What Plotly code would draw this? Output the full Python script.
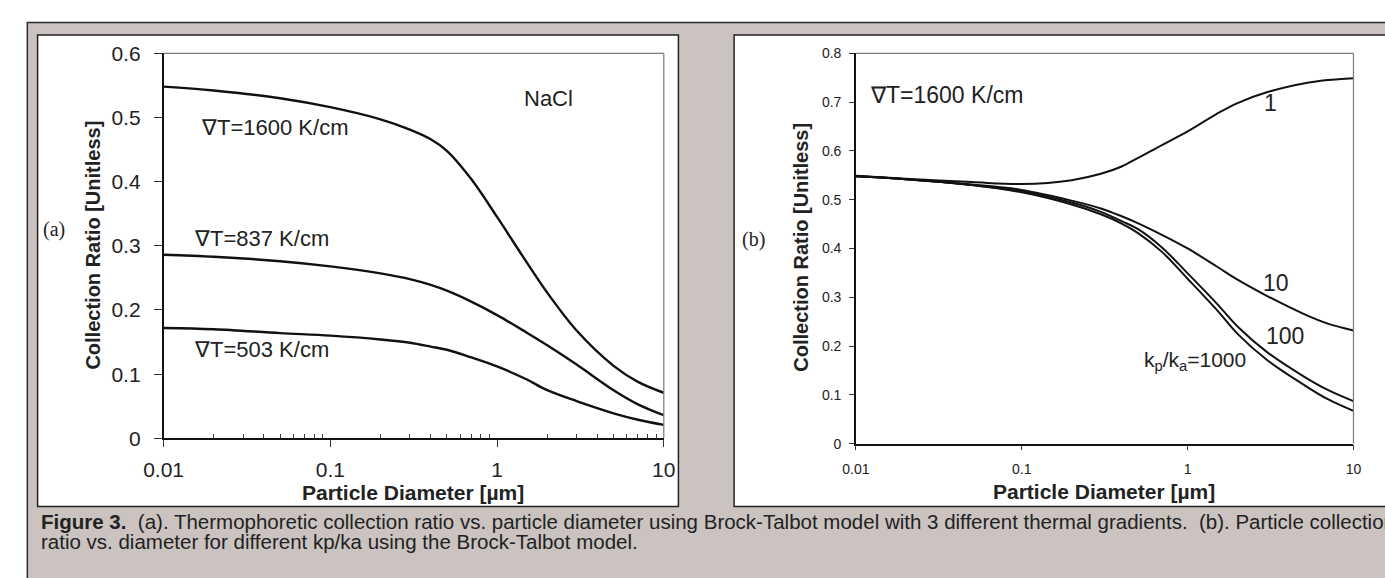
import plotly.graph_objects as go

W, H = 1385, 578

# ---------------- data ----------------
diam = [0.01, 0.02, 0.05, 0.1, 0.2, 0.3, 0.4, 0.5, 0.7, 1, 1.5, 2, 3, 5, 7, 10]

# panel (a): NaCl, three thermal gradients
grad_1600 = [0.548, 0.542, 0.530, 0.516, 0.497, 0.481, 0.466, 0.448, 0.404, 0.345, 0.275, 0.227, 0.168, 0.113, 0.088, 0.071]
grad_837 = [0.286, 0.283, 0.276, 0.268, 0.257, 0.248, 0.239, 0.230, 0.213, 0.192, 0.165, 0.145, 0.115, 0.075, 0.053, 0.036]
grad_503 = [0.172, 0.170, 0.164, 0.160, 0.154, 0.149, 0.143, 0.138, 0.126, 0.112, 0.092, 0.075, 0.058, 0.039, 0.029, 0.021]

# panel (b): different kp/ka at 1600 K/cm
kp_1 = [0.549, 0.543, 0.536, 0.532, 0.540, 0.553, 0.568, 0.585, 0.612, 0.640, 0.676, 0.698, 0.720, 0.738, 0.745, 0.749]
kp_10 = [0.548, 0.542, 0.531, 0.520, 0.498, 0.482, 0.466, 0.452, 0.428, 0.400, 0.363, 0.336, 0.303, 0.266, 0.246, 0.232]
kp_100 = [0.548, 0.542, 0.530, 0.517, 0.494, 0.475, 0.456, 0.440, 0.402, 0.349, 0.287, 0.240, 0.188, 0.138, 0.110, 0.087]
kp_1000 = [0.548, 0.542, 0.530, 0.515, 0.490, 0.470, 0.451, 0.432, 0.393, 0.338, 0.274, 0.225, 0.172, 0.121, 0.091, 0.067]

x_tickvals = [0.01, 0.1, 1, 10]
x_ticktext = ["0.01", "0.1", "1", "10"]
minor_vals = [m * 10 ** e for e in (-2, -1, 0) for m in range(2, 10)]
ya_tickvals = [0, 0.1, 0.2, 0.3, 0.4, 0.5, 0.6]
ya_ticktext = ["0", "0.1", "0.2", "0.3", "0.4", "0.5", "0.6"]
yb_tickvals = [0, 0.1, 0.2, 0.3, 0.4, 0.5, 0.6, 0.7, 0.8]
yb_ticktext = ["0", "0.1", "0.2", "0.3", "0.4", "0.5", "0.6", "0.7", "0.8"]

SANS = "Liberation Sans, Arial, Helvetica, sans-serif"
SERIF = "Liberation Serif, Times New Roman, serif"
GREY = "#cac3c0"
INK = "#222222"


def px(x):
    return x / W


def py(y):
    return 1 - y / H


fig = go.Figure()

for ys in (grad_1600, grad_837, grad_503):
    fig.add_trace(go.Scatter(x=diam, y=ys, mode="lines", xaxis="x", yaxis="y",
                             line=dict(color="#111", width=2.4, shape="spline", smoothing=1.0),
                             showlegend=False, hoverinfo="skip"))
for ys in (kp_1, kp_10, kp_100, kp_1000):
    fig.add_trace(go.Scatter(x=diam, y=ys, mode="lines", xaxis="x2", yaxis="y2",
                             line=dict(color="#111", width=2.0, shape="spline", smoothing=1.0),
                             showlegend=False, hoverinfo="skip"))

shapes = [
    # outer grey frame
    dict(type="rect", xref="paper", yref="paper", x0=px(7.5), y0=py(11), x1=px(1420), y1=py(620),
         fillcolor=GREY, line=dict(color="#2b2b2b", width=1.5), layer="below"),
    # panel boxes
    dict(type="rect", xref="paper", yref="paper", x0=px(18), y0=py(24), x1=px(674), y1=py(515),
         fillcolor="white", line=dict(color="#222", width=1.5), layer="below"),
    dict(type="rect", xref="paper", yref="paper", x0=px(731), y0=py(24), x1=px(1420), y1=py(515),
         fillcolor="white", line=dict(color="#222", width=1.5), layer="below"),
]
# top / right plot borders (grey)
for xr, yr in (("x", "y"), ("x2", "y2")):
    shapes.append(dict(type="line", xref=xr + " domain", yref=yr + " domain", x0=0, x1=1, y0=1, y1=1,
                       line=dict(color="#7a7a7a", width=1.2)))
    shapes.append(dict(type="line", xref=xr + " domain", yref=yr + " domain", x0=1, x1=1, y0=0, y1=1,
                       line=dict(color="#7a7a7a", width=1.2)))

annotations = []


def txt(x, y, s, size, family=SANS, xanchor="left", angle=0, color=INK):
    annotations.append(dict(x=px(x), y=py(y), xref="paper", yref="paper", text=s, showarrow=False,
                            xanchor=xanchor, yanchor="middle", textangle=angle,
                            font=dict(size=size, family=family, color=color)))


# panel (a) labels
txt(183, 120, "∇T=1600 K/cm", 22)
txt(176, 236, "∇T=837 K/cm", 22)
txt(176, 352, "∇T=503 K/cm", 22)
txt(541, 90, "NaCl", 22, xanchor="center")
txt(21, 227, "(a)", 20, family=SERIF)
txt(75, 243, "<b>Collection Ratio [Unitless]</b>", 20, xanchor="center", angle=-90)
txt(402, 500, "<b>Particle Diameter [µm]</b>", 21, xanchor="center")

# panel (b) labels
txt(868, 86, "∇T=1600 K/cm", 23)
txt(1280, 95, "1", 23, xanchor="center")
txt(1286, 282, "10", 23, xanchor="center")
txt(1295, 337, "100", 23, xanchor="center")
txt(1257, 363, "k<sub>p</sub>/k<sub>a</sub>=1000", 21, xanchor="right")
txt(737, 237, "(b)", 20, family=SERIF)
txt(800, 245, "<b>Collection Ratio [Unitless]</b>", 20, xanchor="center", angle=-90)
txt(1110, 499, "<b>Particle Diameter [µm]</b>", 21, xanchor="center")

# caption
txt(19, 531, "<b>Figure 3.</b>  (a). Thermophoretic collection ratio vs. particle diameter using Brock-Talbot model "
             "with 3 different thermal gradients.  (b). Particle collection", 20.5)
txt(19, 551, "ratio vs. diameter for different kp/ka using the Brock-Talbot model.", 20.5)

axis_common = dict(showgrid=False, zeroline=False, showline=True, linecolor="#111", linewidth=1.5,
                   ticks="outside", tickcolor="#333", tickwidth=1.2)

fig.update_layout(
    width=W, height=H, margin=dict(l=0, r=0, t=0, b=0),
    paper_bgcolor="white", plot_bgcolor="rgba(0,0,0,0)",
    shapes=shapes, annotations=annotations, showlegend=False,
    xaxis=dict(axis_common, type="log", range=[-2, 1], domain=[px(147), px(659)], anchor="y",
               tickmode="array", tickvals=x_tickvals, ticktext=x_ticktext, ticklen=7,
               tickfont=dict(size=21, family=SANS, color=INK), ticklabelstandoff=5,
               minor=dict(ticks="inside", ticklen=5, tickcolor="#333", tickwidth=1,
                          tickmode="array", tickvals=minor_vals, showgrid=False)),
    yaxis=dict(axis_common, range=[0, 0.6], domain=[py(444), py(43)], anchor="x",
               tickmode="array", tickvals=ya_tickvals, ticktext=ya_ticktext, ticklen=8,
               tickfont=dict(size=21, family=SANS, color=INK), ticklabelstandoff=9),
    xaxis2=dict(axis_common, type="log", range=[-2, 1], domain=[px(855.7), px(1365)], anchor="y2",
                tickmode="array", tickvals=x_tickvals, ticktext=x_ticktext, ticklen=5,
                tickfont=dict(size=14, family=SANS, color=INK), ticklabelstandoff=7),
    yaxis2=dict(axis_common, range=[0, 0.8], domain=[py(449.5), py(43)], anchor="x2",
                tickmode="array", tickvals=yb_tickvals, ticktext=yb_ticktext, ticklen=5,
                tickfont=dict(size=14, family=SANS, color=INK), ticklabelstandoff=5),
)

fig.write_html("out.html")
